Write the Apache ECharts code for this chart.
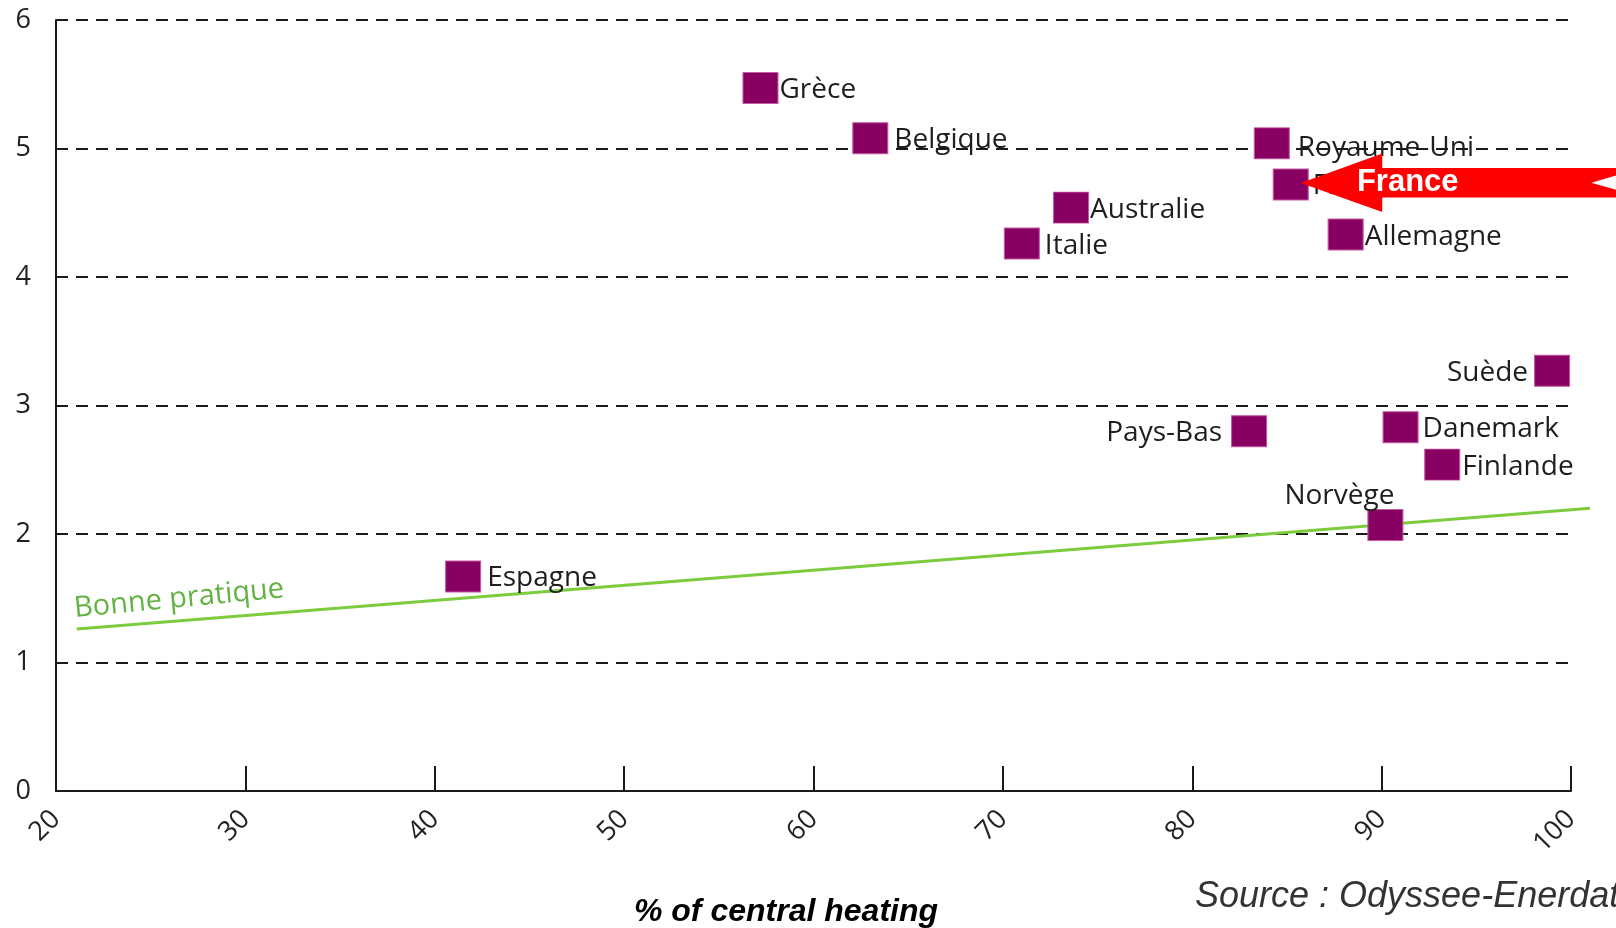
<!DOCTYPE html>
<html><head><meta charset="utf-8">
<script src="https://cdn.jsdelivr.net/npm/echarts@6/dist/echarts.min.js"></script>
<style>html,body{margin:0;padding:0;background:#fff}#chart{width:1616px;height:928px}</style>
</head><body><div id="chart"></div>
<script>
// ---- data ----
const countries = ['Grèce','Belgique','Royaume-Uni','France','Australie','Italie','Allemagne','Suède','Pays-Bas','Danemark','Finlande','Norvège','Espagne'];
const centralHeating = [57.2, 63.0, 84.2, 85.2, 73.6, 71.0, 88.1, 99.0, 83.0, 91.0, 93.2, 90.2, 41.5];
const consumption = [5.47, 5.08, 5.04, 4.72, 4.54, 4.26, 4.33, 3.27, 2.80, 2.83, 2.54, 2.07, 1.67];
const goodPracticeX = [21.1, 101.0];
const goodPracticeY = [1.26, 2.20];
const goodPracticeLabel = 'Bonne pratique';
const xTickLabels = ['20','30','40','50','60','70','80','90','100'];
const yTickLabels = ['0','1','2','3','4','5','6'];
const highlighted = 'France';
const xAxisTitle = '% of central heating';
const sourceText = 'Source : Odyssee-Enerdata';

// ---- label placement (style) ----
const labelPlacement = {
  'Grèce': {position: 'right', distance: 1},
  'Belgique': {position: 'right', distance: 6},
  'Royaume-Uni': {position: 'right', distance: 8, offset: [0, 3]},
  'France': {position: 'right', distance: 4},
  'Australie': {position: 'right', distance: 1},
  'Italie': {position: 'right', distance: 5},
  'Allemagne': {position: 'right', distance: 1},
  'Suède': {position: 'left', distance: 6},
  'Pays-Bas': {position: 'left', distance: 9},
  'Danemark': {position: 'right', distance: 4},
  'Finlande': {position: 'right', distance: 2},
  'Norvège': {position: 'top', distance: 1, offset: [-46, 0]},
  'Espagne': {position: 'right', distance: 6}
};

const FONT = '"Open Sans", "Noto Sans", sans-serif';
const chart = echarts.init(document.getElementById('chart'), null, {renderer: 'canvas'});

const scatterData = countries.map((c, i) => {
  const p = labelPlacement[c] || {position: 'right'};
  const off = p.offset || [0, 0];
  return {
    name: c,
    value: [centralHeating[i], consumption[i]],
    label: Object.assign({show: true, formatter: c}, p, {offset: [off[0], off[1] + 2]})
  };
});

chart.setOption({
  animation: false,
  backgroundColor: '#ffffff',
  grid: {left: 56, right: 45, top: 20, bottom: 137, containLabel: false},
  xAxis: {
    type: 'value', min: 20, max: 100, interval: 10,
    axisLine: {show: true, lineStyle: {color: '#1a1a1a', width: 2}},
    axisTick: {show: true, inside: true, length: 25, lineStyle: {color: '#1a1a1a', width: 2}},
    splitLine: {show: false},
    axisLabel: {
      rotate: 45, margin: 24, fontSize: 27, color: '#222', fontFamily: FONT,
      formatter: (v) => xTickLabels[Math.round((v - 20) / 10)] || ''
    }
  },
  yAxis: {
    type: 'value', min: 0, max: 6, interval: 1,
    axisLine: {show: true, lineStyle: {color: '#1a1a1a', width: 2}},
    axisTick: {show: false},
    splitLine: {show: true, lineStyle: {color: '#1a1a1a', width: 2, type: [12, 8]}},
    axisLabel: {
      margin: 25, fontSize: 27, color: '#222', fontFamily: FONT,
      formatter: (v) => yTickLabels[Math.round(v)] || ''
    }
  },
  series: [
    {
      type: 'custom', z: 2, clip: false, silent: true,
      data: [[goodPracticeX[0], goodPracticeY[0], goodPracticeX[1], goodPracticeY[1]]],
      encode: {x: [0, 2], y: [1, 3]},
      renderItem: (params, api) => {
        const p1 = api.coord([api.value(0), api.value(1)]);
        const p2 = api.coord([api.value(2), api.value(3)]);
        return {
          type: 'line',
          shape: {x1: p1[0], y1: p1[1], x2: p2[0], y2: p2[1]},
          style: {stroke: '#7dcc3e', lineWidth: 3}
        };
      }
    },
    {
      type: 'scatter', z: 3, symbol: 'rect', symbolSize: [35, 31],
      itemStyle: {color: '#880062', borderColor: '#c45a9e', borderWidth: 1, opacity: 1},
      label: {show: true, fontSize: 28, color: '#1e1e1e', fontFamily: FONT},
      data: scatterData
    }
  ]
});

function drawOverlays() {
  const px = (v) => chart.convertToPixel({gridIndex: 0}, v);
  const a = px([goodPracticeX[0], goodPracticeY[0]]);
  const b = px([goodPracticeX[1], goodPracticeY[1]]);
  const ang = Math.atan2(a[1] - b[1], b[0] - a[0]) + 0.015;
  const t = (26.5 - goodPracticeX[0]) / (goodPracticeX[1] - goodPracticeX[0]);
  const tx = a[0] + (b[0] - a[0]) * t, ty = a[1] + (b[1] - a[1]) * t;

  const fi = countries.indexOf(highlighted);
  const c = px([centralHeating[fi], consumption[fi]]);
  const cx = c[0], cy = c[1];
  const pts = [
    [cx + 10, cy - 1.5], [cx + 91.5, cy - 31], [cx + 91.5, cy - 16.6], [cx + 352, cy - 16.6],
    [cx + 300.5, cy - 1.8], [cx + 352, cy + 13], [cx + 91.5, cy + 13], [cx + 91.5, cy + 27.4]
  ];

  chart.setOption({
    graphic: [
      {
        type: 'text', x: tx, y: ty - 22, rotation: ang, z: 10,
        style: {text: goodPracticeLabel, fill: '#63b244', font: '29px ' + FONT, textAlign: 'center', textVerticalAlign: 'middle'}
      },
      {type: 'polygon', z: 20, shape: {points: pts}, style: {fill: '#ff0000'}},
      {
        type: 'text', z: 21, x: cx + 117, y: cy - 2,
        style: {text: highlighted, fill: '#ffffff', font: 'bold 31px "Liberation Sans", Arial, sans-serif', textAlign: 'center', textVerticalAlign: 'middle'}
      },
      {
        type: 'text', z: 10, x: 786, y: 912,
        style: {text: xAxisTitle, fill: '#000', font: 'italic bold 32px "Liberation Sans", Arial, sans-serif', textAlign: 'center', textVerticalAlign: 'middle'}
      },
      {
        type: 'text', z: 10, x: 1195, y: 897,
        style: {text: sourceText, fill: '#333', font: 'italic 36px "Liberation Sans", Arial, sans-serif', textAlign: 'left', textVerticalAlign: 'middle'}
      }
    ]
  });
}
drawOverlays();
</script>
</body></html>
